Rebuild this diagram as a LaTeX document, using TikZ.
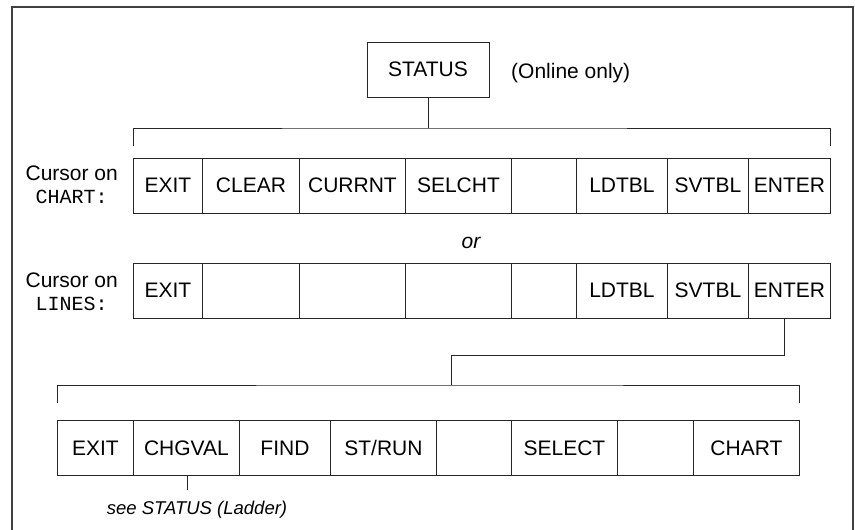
\documentclass[tikz,border=0pt]{standalone}
\usepackage{fontspec}
\setmainfont{Liberation Sans}
\setmonofont{Liberation Mono}
\usepackage{tikz}
\tikzset{
  Kbox/.style={draw=black!85, line width=0.9pt, minimum height=55pt,
               inner sep=0pt, anchor=west, font=\fontsize{21}{24}\selectfont},
  Sbox/.style={draw=black!85, line width=0.9pt, minimum width=122pt,
               minimum height=55pt, inner sep=0pt, font=\fontsize{21}{24}\selectfont},
  Clab/.style={align=center, inner sep=0pt, anchor=east,
               font=\fontsize{21}{23.3}\selectfont},
  Txt/.style={inner sep=2pt, font=\fontsize{21}{24}\selectfont},
  Note/.style={inner sep=2pt, font=\fontsize{21}{24}\selectfont\itshape},
  Conn/.style={draw=black!85, line width=0.9pt},
  Frame/.style={draw=black!75, line width=1.5pt}
}
\newcommand{\cmd}[1]{{\ttfamily\fontsize{20}{23.3}\selectfont #1}}

\begin{document}
\begin{tikzpicture}[x=1pt, y=-1pt]
  \useasboundingbox (0,0) rectangle (855,530);
  \draw[Frame] (12,540) -- (12,7) -- (853,7) -- (853,540);

  \node[Sbox] (status) at (428,69.5) {STATUS};
  \node[Txt, anchor=base west] (online) at (509,78.3) {(Online only)};

  % cursor on CHART
  \node[Clab] (lchart) at (118,185) {Cursor on\\\cmd{CHART:}};
  \node[Kbox, minimum width=69pt] (a1) at (133,185.5) {EXIT};
  \node[Kbox, minimum width=97pt] (a2) at (202,185.5) {CLEAR};
  \node[Kbox, minimum width=106pt] (a3) at (299,185.5) {CURRNT};
  \node[Kbox, minimum width=106pt] (a4) at (405,185.5) {SELCHT};
  \node[Kbox, minimum width=65pt] (a5) at (511,185.5) {};
  \node[Kbox, minimum width=91pt] (a6) at (576,185.5) {LDTBL};
  \node[Kbox, minimum width=81pt] (a7) at (667,185.5) {SVTBL};
  \node[Kbox, minimum width=82pt] (a8) at (748,185.5) {ENTER};

  \node[Note, anchor=base] (or) at (471,248) {or};

  % cursor on LINES
  \node[Clab] (llines) at (118,291.5) {Cursor on\\\cmd{LINES:}};
  \node[Kbox, minimum width=69pt] (b1) at (133,290.5) {EXIT};
  \node[Kbox, minimum width=97pt] (b2) at (202,290.5) {};
  \node[Kbox, minimum width=106pt] (b3) at (299,290.5) {};
  \node[Kbox, minimum width=106pt] (b4) at (405,290.5) {};
  \node[Kbox, minimum width=65pt] (b5) at (511,290.5) {};
  \node[Kbox, minimum width=91pt] (b6) at (576,290.5) {LDTBL};
  \node[Kbox, minimum width=81pt] (b7) at (667,290.5) {SVTBL};
  \node[Kbox, minimum width=82pt] (b8) at (748,290.5) {ENTER};

  % after ENTER
  \node[Kbox, minimum width=76pt] (c1) at (57,448.2) {EXIT};
  \node[Kbox, minimum width=106pt] (c2) at (133,448.2) {CHGVAL};
  \node[Kbox, minimum width=91pt] (c3) at (239,448.2) {FIND};
  \node[Kbox, minimum width=106pt] (c4) at (330,448.2) {ST/RUN};
  \node[Kbox, minimum width=75pt] (c5) at (436,448.2) {};
  \node[Kbox, minimum width=106pt] (c6) at (511,448.2) {SELECT};
  \node[Kbox, minimum width=76pt] (c7) at (617,448.2) {};
  \node[Kbox, minimum width=106pt] (c8) at (693,448.2) {CHART};

  \node[Note, anchor=base, font=\fontsize{18.5}{22}\selectfont\itshape] (see)
    at (197,514) {see STATUS (Ladder)};

  \coordinate (brA) at (428,128);
  \coordinate (brB) at (451,385);
  \draw[Conn] (status.south) -- (brA);
  \draw[Conn] ([yshift=12pt]a1.north west) |- (brA) -| ([yshift=12pt]a8.north east);
  \draw[Conn] ([xshift=-5pt]b8.south) |- ([yshift=30pt]brB) -- (brB);
  \draw[Conn] ([yshift=17.7pt]c1.north west) |- (brB) -| ([yshift=17.7pt]c8.north east);
  \draw[Conn] ([xshift=1pt]c2.south) -- ([xshift=1pt,yshift=-14.3pt]c2.south);
\end{tikzpicture}
\end{document}
